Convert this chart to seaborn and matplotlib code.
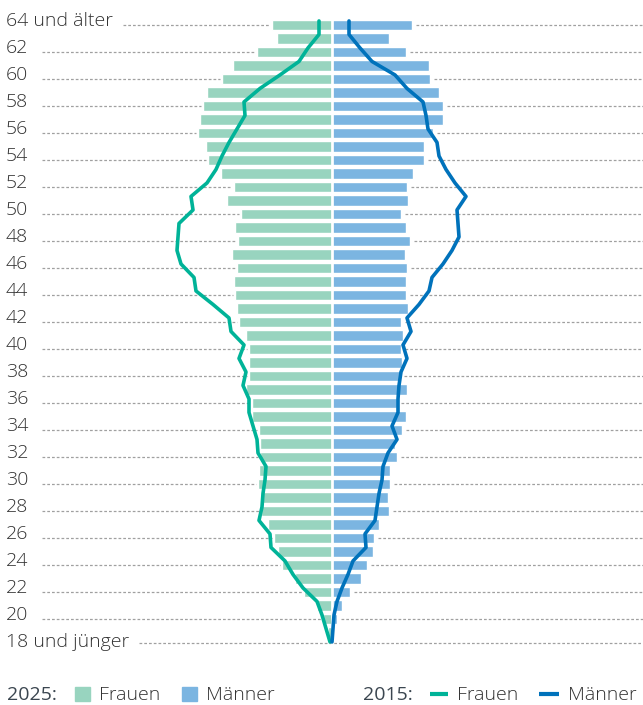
import numpy as np
import pandas as pd
import matplotlib
matplotlib.use("Agg")
import matplotlib.pyplot as plt
import seaborn as sns
from matplotlib.patches import Rectangle
from matplotlib.lines import Line2D

# ---------------- data ----------------
ages = ["64 und älter"] + [str(a) for a in range(63, 18, -1)] + ["18 und jünger"]
tick_labels = ["64 und älter"] + [str(a) for a in range(62, 19, -2)] + ["18 und jünger"]

# 2025 bars (order: 64 und älter ... 18 und jünger)
frauen_2025 = [60, 55, 75, 99, 110, 125, 129, 132, 134, 126, 124, 111, 98, 105, 91, 97,
               94, 100, 95, 98, 97, 95, 93, 86, 83, 83, 83, 86, 80, 80, 73, 72,
               72, 73, 74, 71, 71, 64, 58, 54, 50, 37, 28, 15, 9, 4, 0]
maenner_2025 = [80, 57, 74, 97, 98, 107, 111, 111, 101, 92, 92, 81, 75, 76, 69, 74,
                78, 73, 75, 74, 74, 76, 69, 71, 69, 70, 68, 75, 65, 74, 70, 63,
                65, 58, 58, 56, 57, 47, 42, 41, 35, 29, 18, 10, 5, 2, 0]
# 2015 lines
frauen_2015 = [13, 13, 24, 33, 52, 72, 88, 87, 95, 103, 110, 116, 125, 141, 139, 153,
               154, 155, 151, 138, 136, 119, 103, 101, 88, 93, 86, 89, 83, 83, 79, 75,
               74, 66, 67, 69, 70, 73, 62, 61, 47, 39, 29, 15, 10, 6, 2]
maenner_2015 = [17, 17, 28, 40, 63, 75, 91, 94, 96, 105, 107, 114, 123, 134, 125, 126,
                127, 120, 111, 100, 97, 87, 75, 79, 71, 75, 69, 67, 66, 66, 60, 65,
                56, 51, 50, 47, 45, 43, 33, 34, 21, 16, 10, 5, 2, 1, 0]

# ---------------- style ----------------
C_F25 = "#98d4bf"
C_M25 = "#7bb5e1"
C_F15 = "#00b398"
C_M15 = "#0072bb"
TXT = "#333333"
LEG = "#3b4650"
DOT = "#a0a0a0"
FS = 14
FW = "light"

sns.set_style("white")
plt.rcParams["font.family"] = ["Open Sans", "DejaVu Sans"]

W, H = 643, 705
fig = plt.figure(figsize=(W / 100, H / 100), dpi=100)
ax = fig.add_axes([0, 0, 1, 1])

CX = 332.0          # pixel column of the centre
ROW0, ROWH = 25.0, 13.5   # pixel y of first row, row pitch

df = pd.DataFrame({
    "Alter": ages,
    "Frauen": -np.array(frauen_2025, dtype=float),
    "Maenner": np.array(maenner_2025, dtype=float),
})

sns.barplot(data=df, x="Frauen", y="Alter", order=ages, orient="h", color=C_F25,
            saturation=1, width=0.8, errorbar=None, ax=ax, zorder=2)
sns.barplot(data=df, x="Maenner", y="Alter", order=ages, orient="h", color=C_M25,
            saturation=1, width=0.8, errorbar=None, ax=ax, zorder=2)

# white gap at the centre
ax.axvline(0, color="white", lw=1.9, zorder=3)

pos = np.arange(len(ages)) - 0.3
sns.lineplot(x=-np.array(frauen_2015, dtype=float), y=pos, sort=False, estimator=None,
             color=C_F15, lw=2.6, ax=ax, zorder=4)
sns.lineplot(x=np.array(maenner_2015, dtype=float), y=pos, sort=False, estimator=None,
             color=C_M15, lw=2.6, ax=ax, zorder=4)

xmin, xmax = -CX, W - CX
ax.set_xlim(xmin, xmax)
ax.set_ylim((H - ROW0) / ROWH, -ROW0 / ROWH)
ax.axis("off")

# labels + dotted guide lines
px = (xmax - xmin) / W  # data units per pixel in x
fig.canvas.draw()
renderer = fig.canvas.get_renderer()
inv = ax.transData.inverted()
for lab in tick_labels:
    i = ages.index(lab)
    t = ax.text(xmin + 6 * px, i + 1.0 / ROWH, lab, ha="left", va="baseline",
                fontsize=FS, color=TXT, fontweight=FW)
    bb = t.get_window_extent(renderer)
    tx_end = inv.transform((bb.x1, bb.y0))[0]
    x_start = max(xmin + 42 * px, tx_end + 10 * px)
    f, m = frauen_2025[i], maenner_2025[i]
    if lab == "18 und jünger":
        ax.hlines(i - 0.2, x_start, xmax, color=DOT, lw=0.9, linestyles=(0, (2.2, 1.6)), zorder=1)
    else:
        ax.hlines(i, x_start, -(f + 2.5), color=DOT, lw=0.9, linestyles=(0, (2.2, 1.6)), zorder=1)
        ax.hlines(i, m + 3.5, xmax, color=DOT, lw=0.9, linestyles=(0, (2.2, 1.6)), zorder=1)

# legend (figure pixel coordinates)
def fx(x):
    return x / W

def fy(y):
    return 1 - y / H

base = 700
fig.text(fx(7), fy(base), "2025:", fontsize=FS, color=LEG, va="baseline", ha="left")
fig.patches.append(Rectangle((fx(75), fy(701)), 15 / W, 14 / H, transform=fig.transFigure,
                             color=C_F25, figure=fig))
fig.text(fx(99), fy(base), "Frauen", fontsize=FS, color=TXT, va="baseline", ha="left",
         fontweight=FW)
fig.patches.append(Rectangle((fx(182), fy(701)), 15 / W, 14 / H, transform=fig.transFigure,
                             color=C_M25, figure=fig))
fig.text(fx(206), fy(base), "Männer", fontsize=FS, color=TXT, va="baseline", ha="left",
         fontweight=FW)

fig.text(fx(363), fy(base), "2015:", fontsize=FS, color=LEG, va="baseline", ha="left")
fig.lines.append(Line2D([fx(430), fx(448)], [fy(694), fy(694)], transform=fig.transFigure,
                        color=C_F15, lw=3, solid_capstyle="butt"))
fig.text(fx(457), fy(base), "Frauen", fontsize=FS, color=TXT, va="baseline", ha="left",
         fontweight=FW)
fig.lines.append(Line2D([fx(539), fx(559)], [fy(694), fy(694)], transform=fig.transFigure,
                        color=C_M15, lw=3, solid_capstyle="butt"))
fig.text(fx(568), fy(base), "Männer", fontsize=FS, color=TXT, va="baseline", ha="left",
         fontweight=FW)

fig.savefig("out.png", dpi=100)
